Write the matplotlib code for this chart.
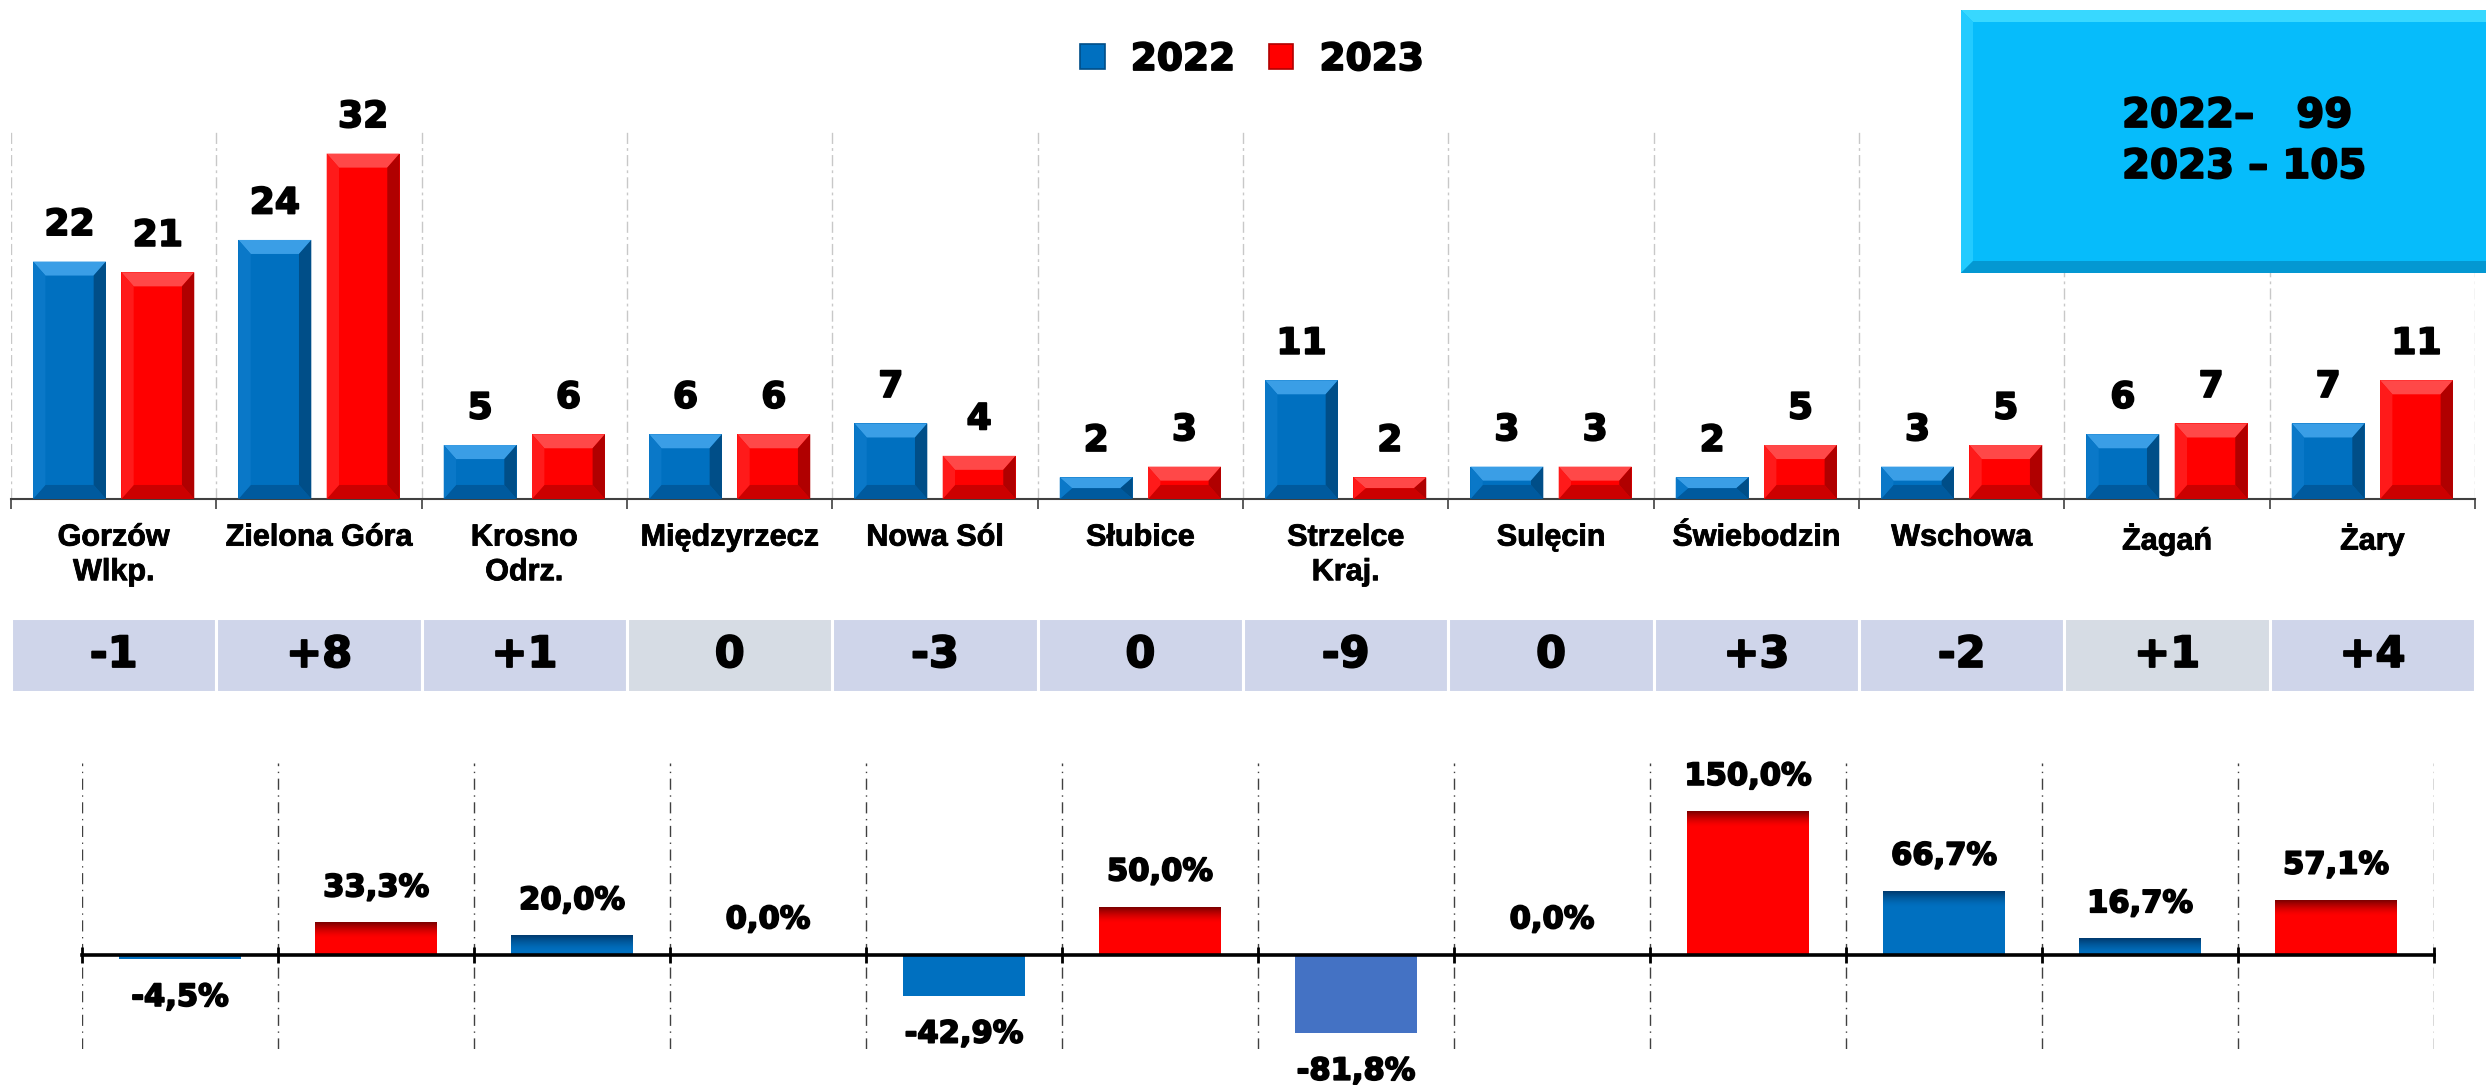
import matplotlib
matplotlib.use("Agg")
import matplotlib.pyplot as plt
import matplotlib.patheffects as pe
import numpy as np
from matplotlib.patches import Polygon, Rectangle, Patch
from matplotlib.colors import LinearSegmentedColormap

# --- data ---
cities = ["Gorzów\nWlkp.", "Zielona Góra", "Krosno\nOdrz.", "Międzyrzecz", "Nowa Sól",
          "Słubice", "Strzelce\nKraj.", "Sulęcin", "Świebodzin", "Wschowa", "Żagań", "Żary"]
vals_2022 = [22, 24, 5, 6, 7, 2, 11, 3, 2, 3, 6, 7]
vals_2023 = [21, 32, 6, 6, 4, 3, 2, 3, 5, 5, 7, 11]
diff_labels = ["-1", "+8", "+1", "0", "-3", "0", "-9", "0", "+3", "-2", "+1", "+4"]
diff_cell_colors = ["#CFD5EA", "#CFD5EA", "#CFD5EA", "#D6DCE4", "#CFD5EA", "#CFD5EA",
                    "#CFD5EA", "#CFD5EA", "#CFD5EA", "#CFD5EA", "#D6DCE4", "#CFD5EA"]
pct_change = [-4.5, 33.3, 20.0, 0.0, -42.9, 50.0, -81.8, 0.0, 150.0, 66.7, 16.7, 57.1]
pct_colors = ["blue", "red", "blue", "blue", "blue", "red", "light", "blue", "red", "blue", "blue", "red"]
totals_text = ["2022–   99", "2023 – 105"]
years = ["2022", "2023"]

W, H = 2486, 1087
fig = plt.figure(figsize=(W / 100, H / 100), dpi=100)
fig.patch.set_facecolor("white")

BOLD = ["DejaVu Sans"]
ARIAL = ["Liberation Sans", "DejaVu Sans"]
heavy = [pe.withStroke(linewidth=1.3, foreground="black")]
heavy_s = [pe.withStroke(linewidth=0.6, foreground="black")]

# bevel palettes: face, top, bottom, left, right
bevel_blue = ["#0070C0", "#3A9EE6", "#005A9E", "#0A78C8", "#004E88"]
bevel_red = ["#FF0000", "#FF4848", "#CC0000", "#FF1A1A", "#B00000"]


def px_ax(left, top, right, bottom):
    return fig.add_axes([left / W, 1 - bottom / H, (right - left) / W, (bottom - top) / H])


def bevel(ax, bars, pal, bx=0.06, by0=1.3):
    for b in bars:
        x0, x1 = b.get_x(), b.get_x() + b.get_width()
        h = b.get_height()
        by = min(by0, h / 2)
        pts = {
            1: [(x0, h), (x1, h), (x1 - bx, h - by), (x0 + bx, h - by)],
            2: [(x0, 0), (x1, 0), (x1 - bx, by), (x0 + bx, by)],
            3: [(x0, 0), (x0, h), (x0 + bx, h - by), (x0 + bx, by)],
            4: [(x1, 0), (x1, h), (x1 - bx, h - by), (x1 - bx, by)],
        }
        for k, p in pts.items():
            ax.add_patch(Polygon(p, closed=True, facecolor=pal[k], edgecolor="none", zorder=3))


# ---------------- top chart ----------------
ax = px_ax(11, 132, 2475, 499)
x = np.arange(len(cities))
bw, off = 0.355, 0.215
b1 = ax.bar(x - off, vals_2022, bw, color=bevel_blue[0], zorder=2)
b2 = ax.bar(x + off, vals_2023, bw, color=bevel_red[0], zorder=2)
bevel(ax, b1, bevel_blue)
bevel(ax, b2, bevel_red)
for bars, vals in ((b1, vals_2022), (b2, vals_2023)):
    for b, v in zip(bars, vals):
        ax.annotate(str(v), (b.get_x() + b.get_width() / 2, v), xytext=(0, 14),
                    textcoords="offset points", ha="center", va="bottom",
                    fontsize=26, fontweight="bold", family=BOLD, path_effects=heavy)

ax.set_xlim(-0.5, len(cities) - 0.5)
ax.set_ylim(0, 34)
ax.set_xticks(np.arange(-0.5, len(cities)), minor=False)
ax.set_xticklabels([])
ax.set_xticks(x, minor=True)
ax.set_xticklabels(cities, minor=True, fontsize=22, fontweight="bold", family=ARIAL,
                   linespacing=1.2)
for lbl in ax.get_xticklabels(minor=True):
    lbl.set_path_effects(heavy_s)
ax.tick_params(axis="x", which="major", length=7, width=1.2, color="#404040")
ax.tick_params(axis="x", which="minor", length=0, pad=17)
ax.set_yticks([])
for s in ["top", "left", "right"]:
    ax.spines[s].set_visible(False)
ax.spines["bottom"].set_color("#404040")
ax.spines["bottom"].set_linewidth(1.5)
ax.grid(axis="x", which="major", color="#C8C8C8", linestyle=(0, (8, 3, 2, 3)), linewidth=1.0)
ax.set_axisbelow(True)
ax.set_facecolor("none")

# legend
handles = [Patch(facecolor=bevel_blue[0], edgecolor=bevel_blue[4], linewidth=1.2),
           Patch(facecolor=bevel_red[0], edgecolor=bevel_red[4], linewidth=1.2)]
leg = fig.legend(handles, years, loc="center", bbox_to_anchor=(1252 / W, 1 - 60 / H), ncol=2,
                 frameon=False, handlelength=0.65, handleheight=0.65, handletextpad=0.7,
                 columnspacing=0.9, prop={"family": BOLD, "weight": "bold", "size": 27})
for t in leg.get_texts():
    t.set_path_effects(heavy)

# totals box
bx_ax = px_ax(1961, 10, 2486, 273)
bx_ax.set_xlim(0, 525)
bx_ax.set_ylim(263, 0)
bx_ax.axis("off")
e = 12
bx_ax.add_patch(Rectangle((0, 0), 540, 263, facecolor="#06BCFB", edgecolor="#0A9BD6", linewidth=1.5))
bx_ax.add_patch(Polygon([(0, 0), (540, 0), (540, e), (e, e)], facecolor="#38D8FF", edgecolor="none"))
bx_ax.add_patch(Polygon([(0, 0), (e, e), (e, 263 - e), (0, 263)], facecolor="#22CBFF", edgecolor="none"))
bx_ax.add_patch(Polygon([(0, 263), (e, 263 - e), (540, 263 - e), (540, 263)], facecolor="#0498D2", edgecolor="none"))
for i, t in enumerate(totals_text):
    bx_ax.text(161, 106 + 51 * i, t, ha="left", va="center", fontsize=29, fontweight="bold",
               family=BOLD, path_effects=heavy)

# ---------------- difference row ----------------
axd = px_ax(11, 618, 2475, 692)
axd.bar(x, 1, width=1, color=diff_cell_colors, edgecolor="white", linewidth=2.2)
for xi, t in zip(x, diff_labels):
    axd.text(xi, 0.5, t, ha="center", va="center", fontsize=31, fontweight="bold",
             family=BOLD, path_effects=heavy)
axd.set_xlim(-0.5, len(cities) - 0.5)
axd.set_ylim(0, 1)
axd.axis("off")

# ---------------- percent change chart ----------------
axp = px_ax(82, 763, 2434, 1049)
pal = {"blue": ("#003A6E", "#0070C0"), "red": ("#7A0000", "#FF0000"), "light": ("#4472C4", "#4472C4")}
pw = 0.62
bars = axp.bar(x, pct_change, pw, color=[pal[c][1] for c in pct_colors], zorder=2)
band = 16.0
for b, v, c in zip(bars, pct_change, pct_colors):
    if v > 0:
        top, base = pal[c]
        cm = LinearSegmentedColormap.from_list("g", [base, top])
        y0 = max(0, v - band)
        img = np.linspace(0, 1, 64).reshape(-1, 1) ** 1.5
        axp.imshow(img, extent=(b.get_x(), b.get_x() + pw, y0, v), origin="lower", cmap=cm,
                   aspect="auto", zorder=3, interpolation="bilinear")
    lbl = f"{v:.1f}%".replace(".", ",")
    axp.annotate(lbl, (b.get_x() + pw / 2, v), xytext=(0, 15 if v >= 0 else -17),
                 textcoords="offset points", ha="center", va="bottom" if v >= 0 else "top",
                 fontsize=22, fontweight="bold", family=BOLD, annotation_clip=False,
                 path_effects=heavy)

axp.set_xlim(-0.5, len(cities) - 0.5)
axp.set_ylim(-98.4, 201)
axp.set_xticks(np.arange(-0.5, len(cities)))
axp.set_xticklabels([])
axp.set_yticks([])
for s in ["top", "left", "right"]:
    axp.spines[s].set_visible(False)
axp.spines["bottom"].set_position(("data", 0))
axp.spines["bottom"].set_linewidth(2.6)
axp.spines["bottom"].set_zorder(4)
axp.tick_params(axis="x", direction="inout", length=12, width=2, color="black")
axp.grid(axis="x", color="#404040", linestyle=(0, (8, 4, 1, 4)), linewidth=1.0)
axp.set_axisbelow(True)
axp.set_facecolor("none")

fig.savefig("out.png", dpi=100, facecolor="white")
